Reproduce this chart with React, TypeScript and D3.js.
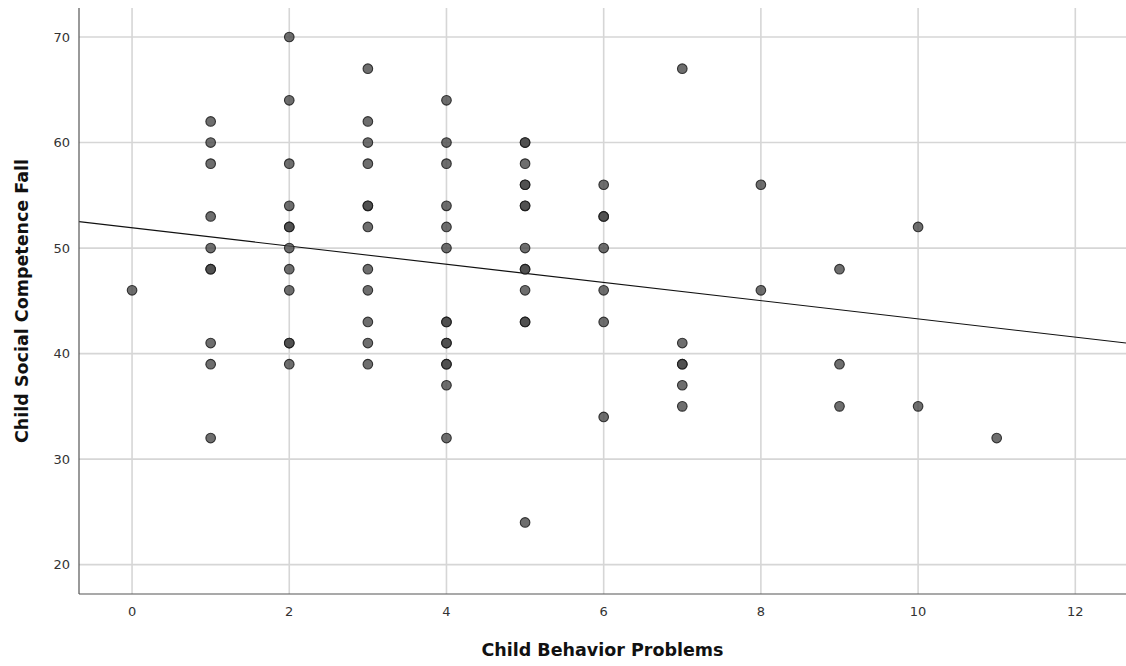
import React from 'react'
import * as d3 from 'd3'

// behavior problems (x) and social competence (y), one entry per child
const behavior = [
  0,
  1, 1, 1, 1, 1, 1, 1, 1, 1, 1,
  2, 2, 2, 2, 2, 2, 2, 2, 2, 2, 2, 2,
  3, 3, 3, 3, 3, 3, 3, 3, 3, 3, 3, 3,
  4, 4, 4, 4, 4, 4, 4, 4, 4, 4, 4, 4, 4, 4,
  5, 5, 5, 5, 5, 5, 5, 5, 5, 5, 5, 5, 5, 5,
  6, 6, 6, 6, 6, 6, 6,
  7, 7, 7, 7, 7, 7,
  8, 8,
  9, 9, 9,
  10, 10,
  11,
]
const competence = [
  46,
  62, 60, 58, 53, 50, 48, 48, 41, 39, 32,
  70, 64, 58, 54, 52, 52, 50, 48, 46, 41, 41, 39,
  67, 62, 60, 58, 54, 54, 52, 48, 46, 43, 41, 39,
  64, 60, 58, 54, 52, 50, 43, 43, 41, 41, 39, 39, 37, 32,
  60, 60, 58, 56, 56, 54, 54, 50, 48, 48, 46, 43, 43, 24,
  56, 53, 53, 50, 46, 43, 34,
  67, 41, 39, 39, 37, 35,
  56, 46,
  48, 39, 35,
  52, 35,
  32,
]

const xTicks = [0, 2, 4, 6, 8, 10, 12]
const yTicks = [20, 30, 40, 50, 60, 70]

// linear fit line
const fitIntercept = 51.92
const fitSlope = -0.863

const xTitle = 'Child Behavior Problems'
const yTitle = 'Child Social Competence Fall'

export default function App() {
  const width = 1126
  const height = 666
  const left = 79
  const right = 1126
  const top = 8
  const bottom = 594

  const x = d3.scaleLinear().domain([-0.675, 12.645]).range([left, right])
  const y = d3.scaleLinear().domain([17.22, 72.75]).range([bottom, top])

  const line = d3.line<number>().x(d => x(d)).y(d => y(fitIntercept + fitSlope * d))
  const font = 'DejaVu Sans, Verdana, sans-serif'

  return <svg width={width} height={height}
    style={{position: 'absolute', left: 0, top: 0, background: 'white'}}>
    <g>
      {xTicks.map(t => <line key={'gx' + t} x1={x(t)} x2={x(t)} y1={top} y2={bottom}
        stroke="#d6d6d6" strokeWidth={1.6} />)}
      {yTicks.map(t => <line key={'gy' + t} x1={left} x2={right} y1={y(t)} y2={y(t)}
        stroke="#d6d6d6" strokeWidth={1.6} />)}
    </g>
    <path d={line(x.domain()) || ''} fill="none" stroke="#111" strokeWidth={1.1} />
    <g>
      {behavior.map((b, i) => <circle key={i} cx={x(b)} cy={y(competence[i])} r={4.8}
        fill="#4a4a4a" fillOpacity={0.8} stroke="#1a1a1a" strokeOpacity={0.85} strokeWidth={1.1} />)}
    </g>
    <line x1={left} x2={left} y1={top} y2={bottom} stroke="#555" strokeWidth={1.2} />
    <line x1={left} x2={right} y1={bottom} y2={bottom} stroke="#555" strokeWidth={1.2} />
    <g fontFamily={font} fontSize={13} fill="#333">
      {xTicks.map(t => <text key={'tx' + t} x={x(t)} y={bottom + 22} textAnchor="middle">{t}</text>)}
      {yTicks.map(t => <text key={'ty' + t} x={left - 9} y={y(t)} dy="0.35em" textAnchor="end">{t}</text>)}
    </g>
    <text x={(left + right) / 2} y={656} textAnchor="middle" fontFamily={font}
      fontSize={17.5} fontWeight="bold" fill="#111">{xTitle}</text>
    <text transform={`translate(28,${(top + bottom) / 2}) rotate(-90)`} textAnchor="middle"
      fontFamily={font} fontSize={17.5} fontWeight="bold" fill="#111">{yTitle}</text>
  </svg>
}
